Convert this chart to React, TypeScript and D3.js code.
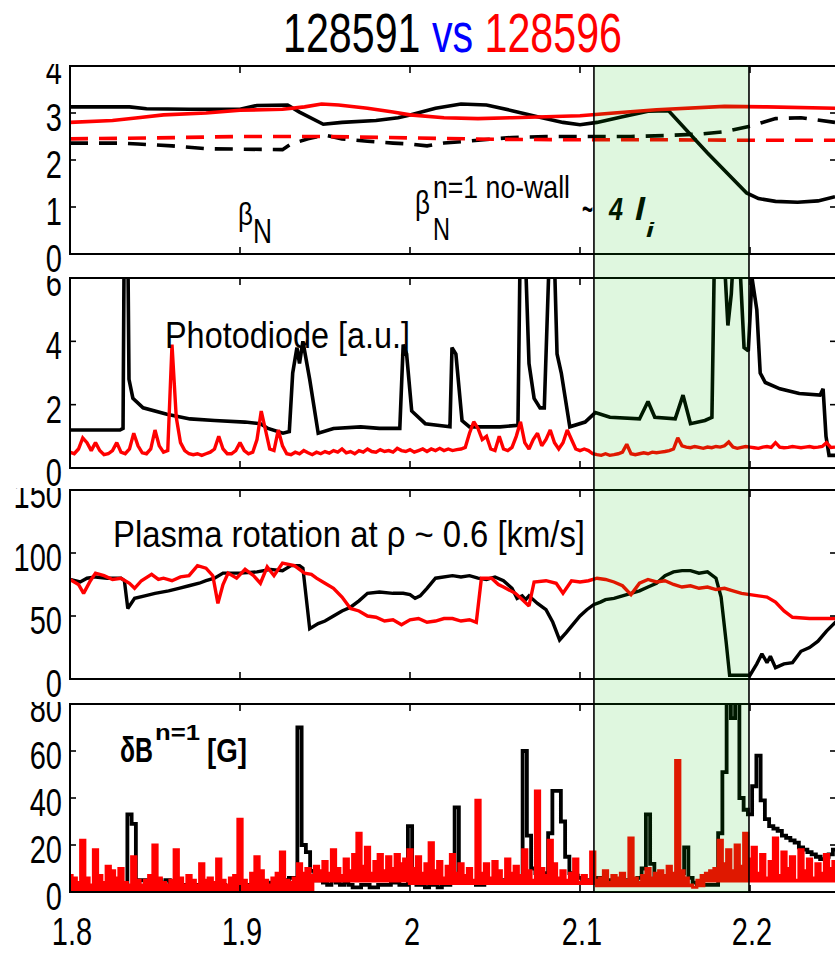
import React from 'react';
import * as d3 from 'd3';

type P = [number, number];

const W = 835;
const H = 953;
const FONT = "'Liberation Sans', Arial, Helvetica, sans-serif";

// ---------- axes ----------
const xTickValues = [1.8, 1.9, 2.0, 2.1, 2.2];
const xTickLabels = ['1.8', '1.9', '2', '2.1', '2.2'];
const xRightEdge = 2.2506;
const shadedWindow = [2.1082, 2.1994];

const yTicksBeta = [0, 1, 2, 3, 4];
const yTicksPhoto = [0, 2, 4, 6];
const yTicksRot = [0, 50, 100, 150];
const yTicksDB = [0, 20, 40, 60, 80];

// ---------- panel 1 : beta_N and no-wall limit ----------
const betaN128591: P[] = [
  [1.8, 3.13], [1.835, 3.13], [1.845, 3.09], [1.87, 3.08], [1.9, 3.08], [1.91, 3.16],
  [1.928, 3.17], [1.935, 3.02], [1.949, 2.76], [1.96, 2.8], [1.98, 2.84], [1.993, 2.9],
  [2.0, 2.96], [2.015, 3.1], [2.03, 3.19], [2.045, 3.17], [2.06, 3.05], [2.075, 2.92],
  [2.09, 2.8], [2.1, 2.75], [2.11, 2.8], [2.125, 2.92], [2.14, 3.04], [2.152, 3.05],
  [2.175, 2.15], [2.198, 1.3], [2.205, 1.18], [2.215, 1.12], [2.228, 1.1], [2.24, 1.13],
  [2.25, 1.22],
];
const betaN128596: P[] = [
  [1.8, 2.8], [1.825, 2.84], [1.84, 2.9], [1.855, 2.96], [1.88, 3.0], [1.9, 3.06],
  [1.925, 3.08], [1.938, 3.13], [1.948, 3.19], [1.958, 3.17], [1.975, 3.1], [1.99, 3.02],
  [2.0, 2.96], [2.02, 2.9], [2.04, 2.88], [2.06, 2.9], [2.08, 2.92], [2.1, 2.94],
  [2.12, 3.0], [2.145, 3.07], [2.185, 3.14], [2.21, 3.13], [2.25, 3.1],
];
const noWall128591: P[] = [
  [1.8, 2.36], [1.83, 2.36], [1.84, 2.34], [1.86, 2.3], [1.88, 2.24], [1.925, 2.22],
  [1.93, 2.34], [1.94, 2.45], [1.95, 2.53], [1.96, 2.45], [1.975, 2.4], [1.99, 2.36],
  [2.0, 2.34], [2.01, 2.3], [2.02, 2.36], [2.04, 2.42], [2.06, 2.48], [2.08, 2.5],
  [2.13, 2.5], [2.15, 2.52], [2.17, 2.55], [2.185, 2.6], [2.2, 2.72], [2.215, 2.88],
  [2.23, 2.9], [2.25, 2.8],
];
const noWall128596: P[] = [
  [1.8, 2.45], [1.85, 2.47], [1.9, 2.5], [1.95, 2.5], [2.0, 2.47], [2.05, 2.44],
  [2.1, 2.43], [2.15, 2.43], [2.2, 2.42], [2.25, 2.42],
];

// ---------- panel 2 : photodiode ----------
const photo128591: P[] = [
  [1.8, 1.2], [1.8294, 1.2], [1.8312, 1.25], [1.8318, 6.5], [1.8341, 6.5], [1.8347, 2.8],
  [1.837, 2.2], [1.843, 1.9], [1.857, 1.7], [1.8706, 1.55], [1.885, 1.5], [1.903, 1.45],
  [1.912, 1.4], [1.9165, 1.25], [1.9253, 1.1], [1.929, 1.15], [1.931, 3.0], [1.9335, 3.8],
  [1.935, 3.3], [1.937, 4.0], [1.941, 2.8], [1.946, 1.1], [1.955, 1.25], [1.971, 1.3],
  [1.982, 1.25], [1.994, 1.25], [1.996, 3.9], [1.998, 3.6], [2.001, 1.8], [2.009, 1.4],
  [2.0235, 1.3], [2.0247, 3.8], [2.027, 3.6], [2.0306, 1.5], [2.035, 1.3], [2.053, 1.3],
  [2.0635, 1.35], [2.0647, 6.5], [2.068, 6.5], [2.07, 3.3], [2.073, 2.2], [2.0765, 1.9],
  [2.079, 1.9], [2.0818, 6.5], [2.085, 6.5], [2.0865, 3.6], [2.089, 3.0], [2.094, 1.3],
  [2.103, 1.45], [2.109, 1.75], [2.1176, 1.6], [2.135, 1.55], [2.14, 2.1], [2.144, 1.6],
  [2.156, 1.55], [2.1606, 2.3], [2.165, 1.4], [2.1735, 1.5], [2.1776, 1.6], [2.179, 6.5],
  [2.185, 6.5], [2.187, 4.5], [2.189, 5.5], [2.19, 6.5], [2.194, 6.5], [2.1965, 3.8],
  [2.199, 3.7], [2.2012, 6.0], [2.204, 5.0], [2.206, 3.0], [2.209, 2.7], [2.2176, 2.5],
  [2.229, 2.35], [2.2412, 2.3], [2.243, 2.5], [2.2447, 1.0], [2.2465, 0.4], [2.251, 0.4],
];
// 128596, one value every 2.5 ms from 1.800 s
const photo128596: number[] = [
  0.5, 0.45, 0.6, 0.95, 0.8, 0.55, 0.8, 0.55, 0.42, 0.45,
  0.55, 0.8, 0.5, 0.45, 0.6, 1.1, 0.7, 0.48, 0.45, 0.6,
  1.2, 0.7, 0.5, 0.55, 3.9, 1.6, 0.8, 0.55, 0.45, 0.42,
  0.45, 0.4, 0.45, 0.5, 0.6, 1.0, 0.6, 0.45, 0.45, 0.55,
  0.8, 0.55, 0.45, 0.5, 0.9, 1.8, 1.2, 0.6, 0.55, 1.2,
  0.7, 0.45,
  0.42, 0.5, 0.45, 0.55, 0.48, 0.42, 0.5, 0.45, 0.52, 0.47,
  0.55, 0.5, 0.6, 0.48, 0.52, 0.45, 0.55, 0.5, 0.6, 0.52,
  0.5, 0.58, 0.52, 0.55, 0.5, 0.62, 0.55, 0.52, 0.58, 0.5,
  0.55, 0.6, 0.52,
  0.6, 0.55, 0.62, 0.55, 0.6, 0.55, 0.58, 0.6, 0.65, 1.1,
  1.46, 1.25, 0.9, 1.0, 0.6, 0.55, 1.0, 0.6, 0.55, 0.65,
  1.0, 1.46, 0.8, 0.6, 0.9, 1.1, 0.7, 0.9, 1.2, 0.8,
  0.6, 0.8, 1.2, 0.9, 0.6, 0.55, 0.6, 0.55, 0.45,
  0.42, 0.4, 0.45, 0.4, 0.42, 0.45, 0.5, 0.75, 0.45, 0.42,
  0.45, 0.48, 0.45, 0.5, 0.48, 0.5, 0.52, 0.55, 0.6,
  0.95, 0.7,
  0.66, 0.64, 0.68, 0.65, 0.62, 0.66, 0.64, 0.68, 0.66, 0.7,
  0.82, 0.66, 0.62, 0.65, 0.68, 0.66, 0.64, 0.62, 0.66, 0.68,
  0.65, 0.8, 0.66, 0.64, 0.65, 0.68, 0.66, 0.64, 0.66, 0.68,
  0.65, 0.66, 0.68, 0.8, 0.65, 0.66,
];

// ---------- panel 3 : plasma rotation ----------
const rot128591: P[] = [
  [1.8, 79], [1.806, 77], [1.81, 80], [1.815, 81], [1.822, 80], [1.83, 80], [1.832, 78],
  [1.834, 56], [1.838, 64], [1.844, 66], [1.85, 68], [1.858, 70], [1.864, 72], [1.87, 74],
  [1.876, 76], [1.88, 78], [1.885, 80], [1.89, 84], [1.9, 84], [1.91, 85], [1.918, 87],
  [1.925, 86], [1.93, 90], [1.935, 90], [1.937, 88], [1.941, 40], [1.946, 44], [1.95, 46],
  [1.955, 50], [1.96, 54], [1.965, 57], [1.97, 62], [1.975, 68], [1.982, 69], [1.99, 68],
  [1.996, 68], [2.0, 67], [2.003, 64], [2.006, 66], [2.01, 72], [2.015, 80], [2.025, 82],
  [2.03, 81], [2.035, 82], [2.04, 80], [2.045, 79], [2.05, 81], [2.055, 78], [2.06, 72],
  [2.063, 64], [2.066, 66], [2.068, 63], [2.07, 66], [2.075, 60], [2.08, 55], [2.084, 45],
  [2.088, 31], [2.092, 37], [2.095, 42], [2.1, 50], [2.104, 55], [2.108, 59], [2.112, 61],
  [2.115, 63], [2.12, 64], [2.125, 66], [2.13, 68], [2.135, 70], [2.14, 73], [2.145, 76],
  [2.15, 82], [2.155, 85], [2.16, 86], [2.165, 86], [2.17, 84], [2.175, 85], [2.18, 80],
  [2.183, 65], [2.186, 29], [2.188, 3], [2.195, 3], [2.2, 3], [2.204, 12], [2.207, 20],
  [2.21, 13], [2.212, 18], [2.215, 9], [2.22, 12], [2.225, 13], [2.23, 22], [2.235, 25],
  [2.24, 30], [2.245, 38], [2.251, 46],
];
const rot128596: P[] = [
  [1.8, 79], [1.805, 75], [1.808, 68], [1.812, 78], [1.815, 84], [1.82, 82], [1.825, 79],
  [1.83, 80], [1.835, 76], [1.838, 72], [1.842, 78], [1.848, 83], [1.852, 79], [1.855, 80],
  [1.86, 78], [1.865, 81], [1.87, 82], [1.875, 90], [1.88, 88], [1.884, 82], [1.887, 60],
  [1.89, 75], [1.893, 84], [1.898, 80], [1.903, 87], [1.908, 82], [1.912, 76], [1.916, 89],
  [1.92, 82], [1.925, 92], [1.932, 90], [1.938, 84], [1.942, 83], [1.945, 80], [1.95, 76],
  [1.955, 72], [1.96, 65], [1.965, 56], [1.97, 54], [1.975, 50], [1.98, 49], [1.985, 46],
  [1.99, 47], [1.995, 43], [2.0, 47], [2.005, 48], [2.01, 45], [2.015, 46], [2.02, 48],
  [2.025, 48], [2.03, 46], [2.035, 47], [2.039, 45], [2.042, 80], [2.048, 80], [2.052, 75],
  [2.055, 73], [2.062, 68], [2.066, 63], [2.07, 58], [2.073, 77], [2.08, 78], [2.086, 76],
  [2.09, 68], [2.095, 78], [2.1, 77], [2.105, 78], [2.11, 80], [2.115, 79], [2.12, 77],
  [2.125, 74], [2.13, 67], [2.135, 76], [2.14, 79], [2.145, 77], [2.15, 78], [2.155, 75],
  [2.16, 73], [2.165, 74], [2.17, 72], [2.175, 73], [2.18, 71], [2.185, 72], [2.19, 70],
  [2.195, 68], [2.2, 67], [2.205, 66], [2.21, 65], [2.215, 61], [2.22, 54], [2.225, 49],
  [2.235, 48], [2.251, 48],
];

// ---------- panel 4 : dB n=1, one value every 2.5 ms from 1.800 s ----------
const dB128591: number[] = [
  2, 2, 1, 2, 2, 2, 1, 2, 2, 2, 2, 2, 2,
  3, 33, 29, 5, 5, 5, 4, 5, 5, 4, 5, 4, 4, 3, 3, 3, 3, 3, 3, 2, 2, 3, 3, 3, 2, 2,
  3, 3, 3, 3, 3, 3, 3, 3, 4, 4, 5, 5, 5, 6, 6,
  70, 20, 17, 9, 5, 5, 4, 3, 5, 4, 3, 4, 3, 2, 2, 3, 3, 2, 2, 3, 3, 3, 4, 4, 3, 3,
  28, 4, 3, 3, 2, 3, 3, 2, 3, 3,
  4, 36, 6, 5, 4, 4, 3, 3, 4, 4, 4, 5, 5, 5, 5, 5, 6,
  60, 24, 10, 8, 8,
  8, 25, 43, 43, 30, 15, 8, 7, 6, 5, 5, 5, 6, 6, 5, 5, 4, 4, 4, 5, 4, 5, 6,
  10, 33, 12, 7, 6, 6, 5, 5, 6, 8,
  19, 6, 4, 3, 3, 3, 3, 3,
  25, 51, 90, 74, 90, 40, 35, 33, 45, 58, 39, 31, 28, 27, 26, 24, 23, 22, 21, 19,
  18, 17, 16, 15, 14, 15, 16, 18,
];
// upper edge of the dense 128596 signal
const dB128596: number[] = [
  7, 6, 4, 22, 6, 3, 18, 7, 4, 11,
  9, 6, 10, 4, 3, 15, 5, 3, 5, 7,
  20, 6, 4, 3, 5, 18, 6, 3, 7, 5,
  3, 12, 5, 6, 4, 14, 5, 3, 6, 7,
  31, 5, 3, 8, 15, 9, 5, 3, 6, 8,
  17, 5, 4, 6, 12, 8, 10, 7, 11, 9,
  13, 8, 18, 10, 7, 14, 9, 16, 25, 11,
  19, 8, 13, 16, 9, 15, 10, 16, 12, 14,
  18, 10, 15, 8, 12, 21, 9, 13, 6, 11,
  16, 8, 12, 7, 10, 5, 39, 8, 12, 6,
  13, 9, 5, 14, 8, 11, 7, 18, 9, 5,
  43, 10, 7, 22, 12, 6, 9, 5, 8, 14,
  4, 7, 5, 17, 5, 6, 9, 4, 7, 6,
  8, 5, 23, 6, 4, 7, 10, 6, 8, 9,
  7, 11, 8, 56, 9, 6, 3, 2, 5, 7,
  8, 9, 10, 22, 12, 18, 9, 20, 11, 25,
  14, 19, 8, 16, 6, 13, 23, 7, 17, 10,
  15, 5, 18, 9, 14, 6, 12, 8, 16, 10, 13,
];
// lower edge of the dense 128596 signal: [from time, level]
const dB128596Floor: P[] = [
  [1.8, 0.3], [1.943, 4], [2.0, 3], [2.108, 2], [2.175, 4],
];

const SAMPLE_T0 = 1.8;
const SAMPLE_DT = 0.0025;

const toPoints = (vals: number[]): P[] => vals.map((v, i) => [SAMPLE_T0 + i * SAMPLE_DT, v]);
const floorAt = (t: number): number => {
  let f = dB128596Floor[0][1];
  for (const [t0, v] of dB128596Floor) if (t >= t0 - 1e-9) f = v;
  return f;
};

// ---------- scales ----------
const xScale = d3.scaleLinear().domain([1.8, 2.2]).range([70, 750]);
const X_LEFT = xScale(1.8);
const X_RIGHT = xScale(xRightEdge);

type Series = {
  data: P[]; color: string; width: number; dash?: string; curve: d3.CurveFactory;
  band?: (t: number) => number;
};
type Panel = { top: number; bottom: number; domain: [number, number]; ticks: number[]; series: Series[] };

const BLACK = '#000000';
const RED = '#ff0000';

const panels: Panel[] = [
  {
    top: 66, bottom: 254, domain: [0, 4], ticks: yTicksBeta,
    series: [
      { data: noWall128591, color: BLACK, width: 3.6, dash: '18,11', curve: d3.curveLinear },
      { data: noWall128596, color: RED, width: 3.6, dash: '18,11', curve: d3.curveLinear },
      { data: betaN128591, color: BLACK, width: 3.6, curve: d3.curveLinear },
      { data: betaN128596, color: RED, width: 3.6, curve: d3.curveLinear },
    ],
  },
  {
    top: 278, bottom: 468, domain: [0, 6], ticks: yTicksPhoto,
    series: [
      { data: photo128591, color: BLACK, width: 3.6, curve: d3.curveLinear },
      { data: toPoints(photo128596), color: RED, width: 3.4, curve: d3.curveLinear },
    ],
  },
  {
    top: 490, bottom: 679, domain: [0, 150], ticks: yTicksRot,
    series: [
      { data: rot128591, color: BLACK, width: 3.4, curve: d3.curveLinear },
      { data: rot128596, color: RED, width: 3.4, curve: d3.curveLinear },
    ],
  },
  {
    top: 704, bottom: 892, domain: [0, 80], ticks: yTicksDB,
    series: [
      { data: toPoints(dB128591), color: BLACK, width: 3.8, curve: d3.curveStep },
      { data: toPoints(dB128596), color: RED, width: 3, curve: d3.curveStep, band: floorAt },
    ],
  },
];

function T(props: {
  x: number; y: number; size: number; sy?: number; len?: number; anchor?: string;
  weight?: string; italic?: boolean; fill?: string; children: React.ReactNode;
}) {
  const { x, y, size, sy = 1, len, anchor = 'start', weight = 'normal', italic = false, fill = '#000', children } = props;
  return (
    <text
      transform={`translate(${x},${y}) scale(1,${sy})`}
      fontFamily={FONT}
      fontSize={size}
      fontWeight={weight}
      fontStyle={italic ? 'italic' : 'normal'}
      textAnchor={anchor}
      fill={fill}
      textLength={len}
      lengthAdjust={len ? 'spacingAndGlyphs' : undefined}
    >
      {children}
    </text>
  );
}

export default function App() {
  const shadeX0 = xScale(shadedWindow[0]);
  const shadeX1 = xScale(shadedWindow[1]);
  const shadeTop = panels[0].top;
  const shadeBottom = panels[3].bottom;

  return (
    <svg width={W} height={H} style={{ position: 'absolute', left: 0, top: 0, background: '#fff' }}>
      <defs>
        {panels.map((p, i) => (
          <clipPath id={`clip${i}`} key={`c${i}`}>
            <rect x={X_LEFT} y={p.top} width={X_RIGHT - X_LEFT} height={p.bottom - p.top} />
          </clipPath>
        ))}
        {panels.map((p, i) => (
          <clipPath id={`lab${i}`} key={`l${i}`}>
            <rect x={0} y={p.top - 2} width={70} height={(i < 3 ? panels[i + 1].top : H) - (p.top - 2) - 1} />
          </clipPath>
        ))}
      </defs>
      <rect x={0} y={0} width={W} height={H} fill="#fff" />

      {/* title */}
      <T x={283} y={52} size={41} sy={1.36} len={339}>
        <tspan fill="#000">128591 </tspan>
        <tspan fill="#0000ff">vs </tspan>
        <tspan fill="#ff0000">128596</tspan>
      </T>

      {panels.map((p, i) => {
        const y = d3.scaleLinear().domain(p.domain).range([p.bottom, p.top]);
        return (
          <g key={`p${i}`}>
            <g clipPath={`url(#clip${i})`}>
              {p.series.map((s, j) => {
                const line = d3
                  .line<P>()
                  .x((d) => xScale(d[0]))
                  .y((d) => y(d[1]))
                  .curve(s.curve);
                const band = s.band;
                const area = band
                  ? d3
                      .area<P>()
                      .x((d) => xScale(d[0]))
                      .y0((d) => y(band(d[0])))
                      .y1((d) => y(d[1]))
                      .curve(s.curve)
                  : null;
                return (
                  <g key={j}>
                    {area && <path d={area(s.data) || ''} fill={s.color} stroke="none" />}
                    <path
                      d={line(s.data) || ''}
                      fill="none"
                      stroke={s.color}
                      strokeWidth={s.width}
                      strokeDasharray={s.dash}
                      strokeLinejoin="miter"
                      strokeMiterlimit={2}
                    />
                  </g>
                );
              })}
            </g>
            {/* frame */}
            <rect x={X_LEFT} y={p.top} width={X_RIGHT - X_LEFT} height={p.bottom - p.top} fill="none" stroke="#000" strokeWidth={2} />
            {/* y ticks */}
            {p.ticks.map((t) => (
              <g key={`yt${t}`}>
                <line x1={X_LEFT} x2={X_LEFT + 6} y1={y(t)} y2={y(t)} stroke="#000" strokeWidth={1.6} />
                <line x1={X_RIGHT} x2={X_RIGHT - 6} y1={y(t)} y2={y(t)} stroke="#000" strokeWidth={1.6} />
              </g>
            ))}
            {/* x ticks */}
            {xTickValues.slice(1).map((t) => (
              <g key={`xt${t}`}>
                <line x1={xScale(t)} x2={xScale(t)} y1={p.top} y2={p.top + 7} stroke="#000" strokeWidth={1.6} />
                <line x1={xScale(t)} x2={xScale(t)} y1={p.bottom} y2={p.bottom - 7} stroke="#000" strokeWidth={1.6} />
              </g>
            ))}
            {/* y tick labels */}
            <g clipPath={`url(#lab${i})`}>
              {p.ticks.map((t) => (
                <T key={`yl${t}`} x={62} y={y(t) + 18} size={29} sy={1.35} anchor="end">
                  {String(t)}
                </T>
              ))}
            </g>
          </g>
        );
      })}

      {/* x tick labels */}
      {xTickValues.map((t, i) => (
        <T key={`xl${t}`} x={xScale(t) + 2} y={945} size={29} sy={1.32} anchor="middle">
          {xTickLabels[i]}
        </T>
      ))}

      {/* panel annotations */}
      <T x={238} y={225} size={26} sy={1.24} len={15}>β</T>
      <T x={253} y={243} size={26} sy={1.34} len={19}>N</T>
      <T x={415} y={214} size={26} sy={1.26} len={15}>β</T>
      <T x={433} y={240} size={24} sy={1.3} len={17}>N</T>
      <T x={433} y={198} size={26.6} sy={1.18} len={137}>n=1 no-wall</T>
      <T x={582} y={220} size={30} sy={1.1} weight="bold" len={11}>~</T>
      <T x={609} y={220} size={23} sy={1.33} weight="bold" italic len={14}>4</T>
      <T x={635} y={220} size={23} sy={1.33} weight="bold" italic len={10}>l</T>
      <T x={646} y={237} size={15} sy={1.3} weight="bold" italic len={8}>i</T>

      <T x={165} y={348} size={32.4} sy={1.15} len={245}>Photodiode [a.u.]</T>
      <T x={113} y={547} size={33} sy={1.14} len={472}>Plasma rotation at ρ ~ 0.6 [km/s]</T>

      <T x={120} y={762} size={28} sy={1.26} weight="bold" len={33}>δB</T>
      <T x={155} y={740} size={18} sy={1.2} weight="bold" len={45}>n=1</T>
      <T x={207} y={762} size={26} sy={1.25} weight="bold" len={40}>[G]</T>

      {/* shaded time window, translucent green over everything */}
      <rect x={shadeX0} y={shadeTop} width={shadeX1 - shadeX0} height={shadeBottom - shadeTop} fill="rgb(0,191,0)" fillOpacity={0.125} />
      <line x1={shadeX0} x2={shadeX0} y1={shadeTop} y2={shadeBottom} stroke="#000" strokeWidth={1.6} />
      <line x1={shadeX1} x2={shadeX1} y1={shadeTop} y2={shadeBottom} stroke="#000" strokeWidth={1.6} />
    </svg>
  );
}
